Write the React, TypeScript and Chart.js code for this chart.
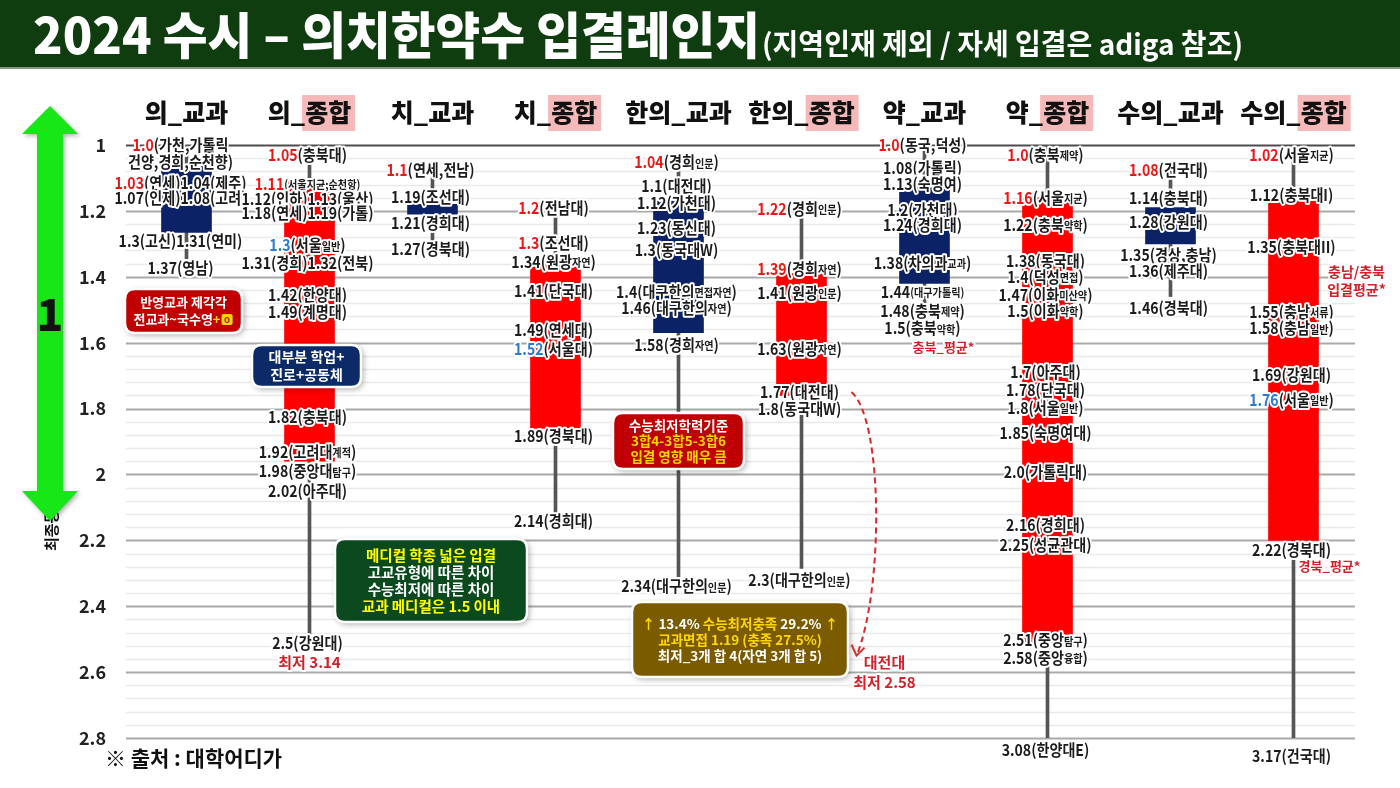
import React, { useEffect, useRef } from 'react';
import { Chart, registerables } from 'chart.js';

Chart.register(...registerables);

const FONT = '"Noto Sans CJK KR", "Noto Sans", sans-serif';

// ---------- data ----------
const categories = ['의_교과', '의_종합', '치_교과', '치_종합', '한의_교과', '한의_종합', '약_교과', '약_종합', '수의_교과', '수의_종합'];
const whiskerLow = [1.0, 1.05, 1.1, 1.2, 1.04, 1.22, 1.0, 1.0, 1.08, 1.02];
const whiskerHigh = [1.345, 2.485, 1.29, 2.115, 2.31, 2.285, 1.48, 3.08, 1.46, 3.17];
const boxLow = [1.065, 1.11, 1.18, 1.35, 1.17, 1.39, 1.13, 1.16, 1.19, 1.17];
const boxHigh = [1.265, 1.96, 1.21, 1.86, 1.57, 1.76, 1.42, 2.51, 1.3, 2.2];

// label lines: [value where the line sits, text]  [..]=red  <..>=blue  {..}=small
const medKyoLabels: [number, string][] = [
  [1.0, '[1.0](가천,가톨릭'], [1.052, '건양,경희,순천향)'], [1.115, '[1.03](연세)1.04(제주)'],
  [1.161, '1.07(인제)1.08(고려)'], [1.292, '1.3(고신)1.31(연미)'], [1.373, '1.37(영남)'],
];
const medJongLabels: [number, string][] = [
  [1.03, '[1.05](충북대)'], [1.118, '[1.11]{(서울지균;순천항)}'], [1.164, '1.12(인하)1.13(울산)'],
  [1.206, '1.18(연세)1.19(가톨)'], [1.304, '<1.3>(서울{일반})'], [1.358, '1.31(경희)1.32(전북)'],
  [1.455, '1.42(한양대)'], [1.507, '1.49(계명대)'], [1.826, '1.82(충북대)'], [1.932, '1.92(고려대{계적})'],
  [1.99, '1.98(중앙대{탐구})'], [2.05, '2.02(아주대)'], [2.512, '2.5(강원대)'],
];
const dentKyoLabels: [number, string][] = [
  [1.076, '[1.1](연세,전남)'], [1.158, '1.19(조선대)'], [1.237, '1.21(경희대)'], [1.316, '1.27(경북대)'],
];
const dentJongLabels: [number, string][] = [
  [1.191, '[1.2](전남대)'], [1.298, '[1.3](조선대)'], [1.355, '1.34(원광{자연})'], [1.443, '1.41(단국대)'],
  [1.562, '1.49(연세대)'], [1.619, '<1.52>(서울대)'], [1.883, '1.89(경북대)'], [2.141, '2.14(경희대)'],
];
const orientKyoLabels: [number, string][] = [
  [1.052, '[1.04](경희{인문})'], [1.124, '1.1(대전대)'], [1.176, '1.12(가천대)'], [1.252, '1.23(동신대)'],
  [1.319, '1.3(동국대W)'], [1.446, '1.4(대구한의{면접자연})'], [1.495, '1.46(대구한의{자연})'],
  [1.607, '1.58(경희{자연})'], [2.339, '2.34(대구한의{인문})'],
];
const orientJongLabels: [number, string][] = [
  [1.194, '[1.22](경희{인문})'], [1.376, '[1.39](경희{자연})'], [1.449, '1.41(원광{인문})'],
  [1.619, '1.63(원광{자연})'], [1.75, '1.77(대전대)'], [1.801, '1.8(동국대W)'], [2.321, '2.3(대구한의{인문})'],
];
const pharmKyoLabels: [number, string][] = [
  [1.0, '[1.0](동국,덕성)'], [1.07, '1.08(가톨릭)'], [1.118, '1.13(숙명여)'], [1.197, '1.2(가천대)'],
  [1.243, '1.24(경희대)'], [1.358, '1.38(차의과{교과})'], [1.446, '1.44{(대구가톨릭)}'],
  [1.504, '1.48(충북{제약})'], [1.556, '1.5(충북{약학})'],
];
const pharmJongLabels: [number, string][] = [
  [1.03, '[1.0](충북{제약})'], [1.161, '[1.16](서울{지균})'], [1.243, '1.22(충북{약학})'], [1.352, '1.38(동국대)'],
  [1.401, '1.4(덕성{면접})'], [1.455, '1.47(이화{미산약})'], [1.504, '1.5(이화{약학})'], [1.689, '1.7(아주대)'],
  [1.744, '1.78(단국대)'], [1.798, '1.8(서울{일반})'], [1.874, '1.85(숙명여대)'], [1.993, '2.0(가톨릭대)'],
  [2.154, '2.16(경희대)'], [2.214, '2.25(성균관대)'], [2.503, '2.51(중앙{탐구})'], [2.557, '2.58(중앙{융합})'],
  [2.837, '3.08(한양대E)'],
];
const vetKyoLabels: [number, string][] = [
  [1.076, '[1.08](건국대)'], [1.161, '1.14(충북대)'], [1.234, '1.28(강원대)'], [1.334, '1.35(경상,충남)'],
  [1.383, '1.36(제주대)'], [1.495, '1.46(경북대)'],
];
const vetJongLabels: [number, string][] = [
  [1.03, '[1.02](서울{지균})'], [1.152, '1.12(충북대I)'], [1.31, '1.35(충북대II)'], [1.507, '1.55(충남{서류})'],
  [1.556, '1.58(충남{일반})'], [1.698, '1.69(강원대)'], [1.774, '<1.76>(서울{일반})'], [2.229, '2.22(경북대)'],
  [2.855, '3.17(건국대)'],
];
const columnLabels = [medKyoLabels, medJongLabels, dentKyoLabels, dentJongLabels, orientKyoLabels,
  orientJongLabels, pharmKyoLabels, pharmJongLabels, vetKyoLabels, vetJongLabels];

// red side notes: column, value, horizontal shift, text, size
const notes: { col: number; at: number; dx: number; text: string; size: number }[] = [
  { col: 1, at: 2.57, dx: 0, text: '최저 3.14', size: 15 },
  { col: 5, at: 2.57, dx: 83, text: '대전대', size: 15 },
  { col: 5, at: 2.63, dx: 83, text: '최저 2.58', size: 15 },
  { col: 6, at: 1.613, dx: 19, text: '충북_평균*', size: 13 },
  { col: 9, at: 1.386, dx: 63, text: '충남/충북', size: 14 },
  { col: 9, at: 1.44, dx: 63, text: '입결평균*', size: 14 },
  { col: 9, at: 2.278, dx: 36, text: '경북_평균*', size: 13 },
];

const NAVY = '#0b2366';
const RED = '#ff0000';
const W = '#ffffff';
const Y = '#ffff00';
const Y2 = '#ffd700';

type Seg = [string, string];
const callouts: { x: number; y: number; w: number; h: number; bg: string; size: number; lh: number; lines: Seg[][] }[] = [
  { x: 125, y: 289, w: 117, h: 44, bg: '#c00000', size: 13, lh: 17,
    lines: [[['반영교과 제각각', W]], [['전교과~국수영', W], ['+', Y2], ['#icon', Y2]]] },
  { x: 252, y: 345, w: 109, h: 42, bg: '#0c2a68', size: 14, lh: 18,
    lines: [[['대부분 학업+', W]], [['진로+공동체', W]]] },
  { x: 335, y: 539, w: 192, h: 83, bg: '#0b4a1f', size: 14.5, lh: 17,
    lines: [[['메디컬 학종 넓은 입결', Y]], [['고교유형에 따른 차이', W]], [['수능최저에 따른 차이', W]], [['교과 메디컬은 1.5 이내', Y]]] },
  { x: 613, y: 413, w: 131, h: 56, bg: '#c00000', size: 13.5, lh: 15.5,
    lines: [[['수능최저학력기준', W]], [['3합4-3합5-3합6', Y2]], [['입결 영향 매우 큼', Y2]]] },
  { x: 632, y: 602, w: 216, h: 75, bg: '#7b5b00', size: 13.5, lh: 16,
    lines: [[['↑ ', Y2], ['13.4% ', W], ['수능최저충족', Y2], [' 29.2%', W], [' ↑', Y2]],
      [['교과면접 1.19 (충족 27.5%)', Y2]], [['최저_3개 합 4(자연 3개 합 5)', W]]] },
];

// ---------- helpers ----------
function parseRich(s: string) {
  const parts: { t: string; k: string }[] = [];
  let cur = '';
  let k = 'n';
  for (const ch of s) {
    if (ch === '[' || ch === '<' || ch === '{') {
      if (cur) parts.push({ t: cur, k });
      cur = '';
      k = ch === '[' ? 'r' : ch === '<' ? 'b' : 's';
    } else if (ch === ']' || ch === '>' || ch === '}') {
      if (cur) parts.push({ t: cur, k });
      cur = '';
      k = 'n';
    } else cur += ch;
  }
  if (cur) parts.push({ t: cur, k });
  return parts;
}

function drawRich(ctx: CanvasRenderingContext2D, text: string, cx: number, cy: number, size = 16, small = 11.5, sx = 0.88) {
  const parts = parseRich(text);
  const fonts = parts.map((p) => `bold ${p.k === 's' ? small : size}px ${FONT}`);
  const widths = parts.map((p, i) => { ctx.font = fonts[i]; return ctx.measureText(p.t).width; });
  const total = widths.reduce((a, b) => a + b, 0);
  ctx.save();
  ctx.translate(cx, cy);
  ctx.scale(sx, 1);
  ctx.textBaseline = 'middle';
  ctx.textAlign = 'left';
  ctx.lineJoin = 'round';
  ctx.strokeStyle = '#ffffff';
  ctx.lineWidth = 4;
  let x = -total / 2;
  parts.forEach((p, i) => { ctx.font = fonts[i]; ctx.strokeText(p.t, x, p.k === 's' ? 1 : 0); x += widths[i]; });
  x = -total / 2;
  parts.forEach((p, i) => {
    ctx.font = fonts[i];
    ctx.fillStyle = p.k === 'r' ? '#f01515' : p.k === 'b' ? '#2a7bd6' : '#1c1c1c';
    ctx.fillText(p.t, x, p.k === 's' ? 1 : 0);
    x += widths[i];
  });
  ctx.restore();
}

function drawFit(ctx: CanvasRenderingContext2D, text: string, x: number, cy: number, width: number, font: string, color: string) {
  ctx.save();
  ctx.font = font;
  const w = ctx.measureText(text).width;
  ctx.translate(x, cy);
  ctx.scale(width / w, 1);
  ctx.textAlign = 'left';
  ctx.textBaseline = 'middle';
  ctx.fillStyle = color;
  ctx.fillText(text, 0, 0);
  ctx.restore();
}

function roundRect(ctx: CanvasRenderingContext2D, x: number, y: number, w: number, h: number, r: number) {
  ctx.beginPath();
  ctx.moveTo(x + r, y);
  ctx.lineTo(x + w - r, y);
  ctx.quadraticCurveTo(x + w, y, x + w, y + r);
  ctx.lineTo(x + w, y + h - r);
  ctx.quadraticCurveTo(x + w, y + h, x + w - r, y + h);
  ctx.lineTo(x + r, y + h);
  ctx.quadraticCurveTo(x, y + h, x, y + h - r);
  ctx.lineTo(x, y + r);
  ctx.quadraticCurveTo(x, y, x + r, y);
  ctx.closePath();
}

function drawCallout(ctx: CanvasRenderingContext2D, c: typeof callouts[number]) {
  ctx.save();
  roundRect(ctx, c.x, c.y, c.w, c.h, 10);
  ctx.shadowColor = 'rgba(0,0,0,0.35)';
  ctx.shadowBlur = 6;
  ctx.shadowOffsetX = 2;
  ctx.shadowOffsetY = 2;
  ctx.fillStyle = c.bg;
  ctx.fill();
  ctx.shadowColor = 'transparent';
  ctx.lineWidth = 2.5;
  ctx.strokeStyle = '#ffffff';
  ctx.stroke();
  ctx.font = `bold ${c.size}px ${FONT}`;
  ctx.textBaseline = 'middle';
  ctx.textAlign = 'left';
  const cy = c.y + c.h / 2;
  const n = c.lines.length;
  c.lines.forEach((line, li) => {
    const y = cy + (li - (n - 1) / 2) * c.lh;
    const widths = line.map(([t]) => (t === '#icon' ? c.size * 0.85 + 2 : ctx.measureText(t).width));
    const total = widths.reduce((a, b) => a + b, 0);
    let x = c.x + c.w / 2 - total / 2;
    line.forEach(([t, col], i) => {
      if (t === '#icon') {
        const s = c.size * 0.85;
        ctx.fillStyle = col;
        roundRect(ctx, x + 1, y - s / 2, s, s, 2);
        ctx.fill();
        ctx.fillStyle = '#c00000';
        ctx.font = `bold ${c.size * 0.6}px ${FONT}`;
        ctx.textAlign = 'center';
        ctx.fillText('O', x + 1 + s / 2, y + 0.5);
        ctx.textAlign = 'left';
        ctx.font = `bold ${c.size}px ${FONT}`;
      } else {
        ctx.fillStyle = col;
        ctx.fillText(t, x, y);
      }
      x += widths[i];
    });
  });
  ctx.restore();
}

// ---------- plugin ----------
const MINOR_STEP = 0.04;
const MAJOR_EVERY = 5;

const decorPlugin = {
  id: 'decor',
  beforeDraw(chart: any) {
    const ctx: CanvasRenderingContext2D = chart.ctx;
    ctx.save();
    ctx.fillStyle = '#ffffff';
    ctx.fillRect(0, 0, chart.width, chart.height);
    ctx.fillStyle = '#103d10';
    ctx.fillRect(0, 0, chart.width, 67);
    ctx.fillStyle = '#8c9686';
    ctx.fillRect(0, 67, chart.width, 2);
    drawFit(ctx, '2024 수시 – 의치한약수 입결레인지', 33, 35, 727, `900 50px ${FONT}`, '#ffffff');
    drawFit(ctx, '(지역인재 제외 / 자세 입결은 adiga 참조)', 762, 44, 481, `bold 29px ${FONT}`, '#ffffff');
    ctx.restore();
  },
  beforeDatasetsDraw(chart: any) {
    const ctx: CanvasRenderingContext2D = chart.ctx;
    const ys = chart.scales.y;
    const { left, right } = chart.chartArea;
    const n = Math.round((ys.max - ys.min) / MINOR_STEP);
    ctx.save();
    for (let k = 0; k <= n; k++) {
      const v = ys.min + k * MINOR_STEP;
      const py = Math.round(ys.getPixelForValue(v)) + 0.5;
      const major = k % MAJOR_EVERY === 0;
      ctx.beginPath();
      ctx.moveTo(left + 1, py);
      ctx.lineTo(right, py);
      ctx.lineWidth = major ? 2 : 1.5;
      ctx.strokeStyle = k === 0 ? '#4d4d4d' : major ? '#a9a9a9' : '#e9e9e9';
      ctx.stroke();
    }
    ctx.restore();
  },
  afterDatasetsDraw(chart: any) {
    const ctx: CanvasRenderingContext2D = chart.ctx;
    const xs = chart.scales.x;
    const ys = chart.scales.y;

    // category headers
    categories.forEach((cat, i) => {
      const cx = xs.getPixelForValue(i);
      const idx = cat.indexOf('_') + 1;
      const pre = cat.slice(0, idx);
      const suf = cat.slice(idx);
      ctx.save();
      ctx.font = `900 25px ${FONT}`;
      ctx.textBaseline = 'middle';
      ctx.textAlign = 'left';
      const wp = ctx.measureText(pre).width;
      const ws = ctx.measureText(suf).width;
      const x0 = cx - (wp + ws) / 2;
      if (suf === '종합') {
        ctx.fillStyle = '#f6b9b9';
        ctx.fillRect(x0 + wp - 3, 95, ws + 7, 36);
      }
      ctx.fillStyle = '#111111';
      ctx.fillText(pre, x0, 112);
      ctx.fillText(suf, x0 + wp, 112);
      ctx.restore();
    });

    // callouts
    callouts.forEach((c) => drawCallout(ctx, c));

    // value labels
    columnLabels.forEach((lines, i) => {
      const cx = xs.getPixelForValue(i) + (i === 0 ? -6 : -2);
      lines.forEach(([at, text]) => drawRich(ctx, text, cx, ys.getPixelForValue(at)));
    });

    // red notes
    notes.forEach((n) => {
      const cx = xs.getPixelForValue(n.col) + n.dx;
      const cy = ys.getPixelForValue(n.at);
      ctx.save();
      ctx.font = `bold ${n.size}px ${FONT}`;
      ctx.textAlign = 'center';
      ctx.textBaseline = 'middle';
      ctx.lineJoin = 'round';
      ctx.strokeStyle = '#ffffff';
      ctx.lineWidth = 4;
      ctx.strokeText(n.text, cx, cy);
      ctx.fillStyle = '#d3202a';
      ctx.fillText(n.text, cx, cy);
      ctx.restore();
    });

    // dashed red arrow (한의_종합 1.77 -> note)
    {
      const x0 = xs.getPixelForValue(5);
      const y0 = ys.getPixelForValue(1.75);
      const y1 = ys.getPixelForValue(2.55);
      ctx.save();
      ctx.strokeStyle = '#e0262b';
      ctx.lineWidth = 2;
      ctx.setLineDash([6, 4]);
      ctx.beginPath();
      ctx.moveTo(x0 + 50, y0);
      ctx.bezierCurveTo(x0 + 82, y0 + 28, x0 + 82, y1 - 65, x0 + 55, y1);
      ctx.stroke();
      ctx.setLineDash([]);
      ctx.beginPath();
      ctx.moveTo(x0 + 50, y1 - 11);
      ctx.lineTo(x0 + 55, y1);
      ctx.lineTo(x0 + 63, y1 - 8);
      ctx.stroke();
      ctx.restore();
    }

    // left: rotated text, green arrow, big "1"
    ctx.save();
    ctx.translate(51, 551);
    ctx.rotate(-Math.PI / 2);
    ctx.font = `bold 15px ${FONT}`;
    ctx.textAlign = 'left';
    ctx.textBaseline = 'middle';
    ctx.fillStyle = '#111111';
    ctx.fillText('최종등급', 0, 0);
    ctx.restore();

    ctx.save();
    ctx.beginPath();
    ctx.moveTo(50, 106);
    ctx.lineTo(78, 134);
    ctx.lineTo(63, 134);
    ctx.lineTo(63, 491);
    ctx.lineTo(78, 491);
    ctx.lineTo(50, 521);
    ctx.lineTo(22, 491);
    ctx.lineTo(37, 491);
    ctx.lineTo(37, 134);
    ctx.lineTo(22, 134);
    ctx.closePath();
    ctx.shadowColor = 'rgba(0,0,0,0.3)';
    ctx.shadowBlur = 4;
    ctx.shadowOffsetX = 2;
    ctx.shadowOffsetY = 2;
    ctx.fillStyle = '#17e617';
    ctx.fill();
    ctx.restore();

    ctx.save();
    ctx.font = `900 44px ${FONT}`;
    ctx.textAlign = 'center';
    ctx.textBaseline = 'middle';
    ctx.fillStyle = '#111111';
    ctx.fillText('1', 50, 314);
    ctx.restore();

    // footer
    drawFit(ctx, '※ 출처 : 대학어디가', 105, 758, 177, `bold 21px ${FONT}`, '#111111');
  },
};

export default function App() {
  const ref = useRef<HTMLCanvasElement>(null);
  useEffect(() => {
    const canvas = ref.current;
    if (!canvas) return;
    const chart = new Chart(canvas, {
      type: 'bar',
      data: {
        labels: categories,
        datasets: [
          {
            label: 'range',
            data: categories.map((_, i) => [whiskerLow[i], whiskerHigh[i]]) as any,
            backgroundColor: '#555555',
            barThickness: 3,
            grouped: false,
            order: 2,
          } as any,
          {
            label: 'core',
            data: categories.map((_, i) => [boxLow[i], boxHigh[i]]) as any,
            backgroundColor: categories.map((c) => (c.endsWith('종합') ? RED : NAVY)),
            barThickness: 50,
            grouped: false,
            order: 1,
          } as any,
        ],
      },
      options: {
        animation: false,
        responsive: false,
        maintainAspectRatio: false,
        devicePixelRatio: 1,
        layout: { padding: { top: 145, right: 45, bottom: 50, left: 0 } },
        plugins: { legend: { display: false }, tooltip: { enabled: false } },
        scales: {
          x: { display: false, offset: true },
          y: {
            reverse: true,
            min: 1,
            max: 2.8,
            afterFit: (s: any) => { s.width = 125; },
            grid: { display: false, drawTicks: false },
            border: { display: false },
            ticks: {
              stepSize: 0.2,
              padding: 19,
              color: '#222222',
              font: { family: FONT, size: 18, weight: 'bold' },
              callback: (v: any) => String(Math.round(Number(v) * 10) / 10),
            },
          },
        },
      } as any,
      plugins: [decorPlugin],
    });
    return () => chart.destroy();
  }, []);
  return (
    <div style={{ position: 'fixed', left: 0, top: 0, width: 1400, height: 788, background: '#ffffff' }}>
      <canvas ref={ref} width={1400} height={788} style={{ display: 'block', width: 1400, height: 788 }} />
    </div>
  );
}
